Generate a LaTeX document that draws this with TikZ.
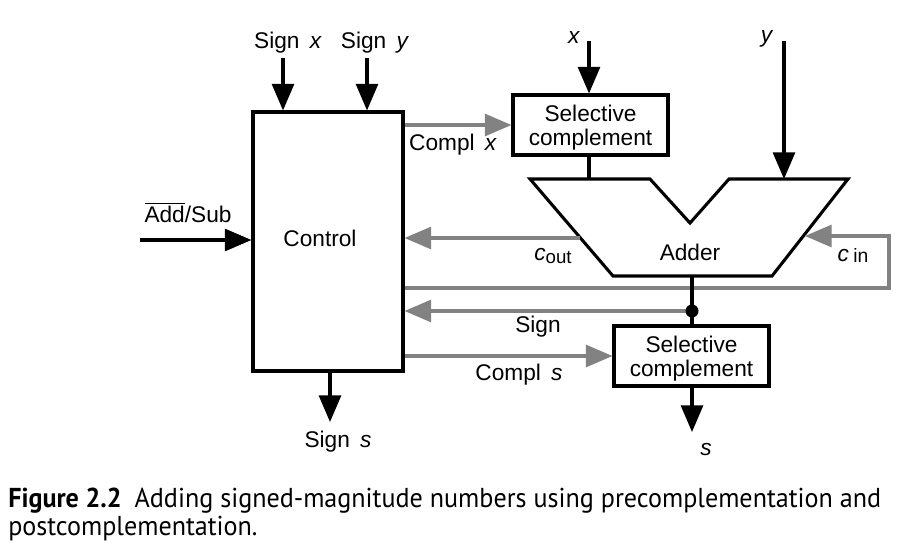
\documentclass[tikz,border=0pt]{standalone}
\usepackage{fontspec}
\setmainfont{Liberation Sans}
\newfontfamily\capfont{PT Sans}
\usetikzlibrary{arrows.meta}
\definecolor{grayc}{RGB}{130,130,130}
\newcommand{\fs}{\fontsize{17pt}{18pt}\selectfont}
\newcommand{\capfs}{\fontsize{20.5pt}{20.5pt}\selectfont}
\newcommand{\seltext}{\raisebox{-2.5pt}[\height][\depth]{\begin{tabular}{@{}c@{}}Selective\\complement\end{tabular}}}
\tikzset{
  barrow/.style={line width=2.3pt, draw=black, -{Triangle[length=20pt,width=16.5pt]}},
  garrow/.style={line width=2.3pt, draw=grayc, -{Triangle[length=20pt,width=16.5pt]}},
  gline/.style={line width=2.3pt, draw=grayc},
  bline/.style={line width=2.3pt, draw=black},
  selbox/.style={draw, line width=2.3pt, minimum width=116.25pt, minimum height=45pt, align=center, inner sep=0pt, font=\fs},
  lbl/.style={anchor=base, inner sep=0pt, font=\fs},
  caplbl/.style={anchor=base west, inner sep=0pt, font=\capfont\capfs},
}
\begin{document}
\begin{tikzpicture}[x=0.75pt, y=-0.75pt]
\useasboundingbox (0,0) rectangle (918,550);
% boxes
\node[draw, line width=2.3pt, minimum width=112.5pt, minimum height=194.25pt, inner sep=0pt] (ctrl) at (328,241.5) {};
\node[lbl] (ctrltxt) at (320,246) {Control};
\node[selbox] (sel1) at (590.5,125) {\seltext};
\node[selbox] (sel2) at (691.5,356) {\seltext};
% adder
\coordinate (a1) at (530,179);
\coordinate (a2) at (650,179);
\coordinate (a3) at (690,223);
\coordinate (a4) at (729,179);
\coordinate (a5) at (848,179);
\coordinate (a6) at (772,276);
\coordinate (a7) at (613,276);
\draw[bline, line join=miter] (a1) -- (a2) -- (a3) -- (a4) -- (a5) -- (a6) -- (a7) -- cycle;
\node[lbl] (addtxt) at (690,260) {Adder};
% inputs
\coordinate (sx) at (283,58);
\coordinate (sy) at (367,58);
\coordinate (xin) at (589,41);
\coordinate (yin) at (784,41);
\coordinate (asin) at (140,240);
\draw[barrow] (sx) -- (sx |- ctrl.north);
\draw[barrow] (sy) -- (sy |- ctrl.north);
\draw[barrow] (xin) -- (xin |- sel1.north);
\draw[barrow] (yin) -- (yin |- a5);
\draw[barrow] (asin) -- (ctrl.west |- asin);
\node[lbl] (sxl) at (288,48) {Sign\hspace{0.45em}\textit{x}};
\node[lbl] (syl) at (375,48) {Sign\hspace{0.45em}\textit{y}};
\node[lbl] (xl) at (574,43) {\textit{x}};
\node[lbl] (yl) at (767,42) {\textit{y}};
\node[lbl] (asl) at (188,222) {$\overline{\mbox{Add}}$/Sub};
% sel1 to adder
\draw[bline] (sel1.south -| xin) -- (xin |- a1);
% compl x
\draw[garrow] (ctrl.east |- sel1.west) -- (sel1.west);
\node[lbl] (cxl) at (453,150) {Compl\hspace{0.45em}\textit{x}};
% cout
\coordinate (coutp) at (580,238);
\draw[garrow] (coutp) -- (ctrl.east |- coutp);
\node[lbl] (coutl) at (553,260) {\textit{c}\raisebox{-0.3ex}{\fontsize{14pt}{14pt}\selectfont out}};
% cin loop
\coordinate (cinp) at (805,236);
\coordinate (lp1) at (889,288);
\coordinate (lp2) at (889,236);
\draw[gline] (ctrl.east |- lp1) -- (lp1) -- (lp2) -- ++(-20,0);
\draw[garrow] (lp2) -- (cinp);
\node[lbl] (cinl) at (853,261) {\textit{c}\hspace{0.2em}\raisebox{-0.15ex}{\fontsize{14.5pt}{14.5pt}\selectfont in}};
% adder out
\coordinate (aout) at (692,276);
\coordinate (dot) at (692,311);
\draw[bline] (aout) -- (aout |- sel2.north);
\draw[garrow] (dot) -- (ctrl.east |- dot);
\fill (dot) circle (6.5);
\node[lbl] (signl) at (538,332) {Sign};
% compl s
\draw[garrow] (ctrl.east |- sel2.west) -- (sel2.west);
\node[lbl] (csl) at (519,380) {Compl\hspace{0.45em}\textit{s}};
% outputs
\coordinate (sout) at (692,432);
\coordinate (ssout) at (330,422);
\draw[barrow] (sel2.south -| sout) -- (sout);
\draw[barrow] (ctrl.south -| ssout) -- (ssout);
\node[lbl] (sl) at (706,455) {\textit{s}};
\node[lbl] (ssl) at (338,447) {Sign\hspace{0.45em}\textit{s}};
% caption
\node[caplbl] (cap1) at (8,507) {\scalebox{0.955}[1]{\textbf{Figure 2.2}\hspace{0.5em}Adding signed-magnitude numbers using precomplementation and}};
\node[caplbl] (cap2) at (8,535) {\scalebox{0.955}[1]{postcomplementation.}};
\end{tikzpicture}
\end{document}
